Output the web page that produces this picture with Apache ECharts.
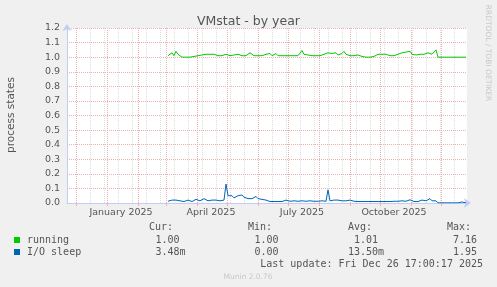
<!DOCTYPE html>
<html><head><meta charset="utf-8">
<script src="https://cdn.jsdelivr.net/npm/echarts@6/dist/echarts.min.js"></script>
<style>html,body{margin:0;padding:0;background:#f0f0f0}#c{width:497px;height:287px}</style>
</head><body><div id="c"></div>
<script>
const titleText = 'VMstat - by year';
const yAxisName = 'process states';
const seriesNames = ['running', 'I/O sleep'];
const seriesColors = ['#00cc00', '#0066b3'];
const axisStart = '2024-11-22';
const axisEnd = '2025-12-27';
const firstDay = '2025-03-03';
const stepDays = 2;
const running = [
 1.01,1.02,1.03,1.01,1.04,1.02,1.01,1.00,
 1.00,1.00,1.00,1.00,1.00,1.005,1.00,1.01,
 1.02,1.015,1.01,1.02,1.01,1.02,1.01,1.02,1.015,1.01,1.02,1.01,1.01,1.02,1.01,1.01,1.02,
 1.015,1.01,1.02,1.02,1.01,1.015,1.01,1.02,1.03,1.02,1.01,1.02,1.01,1.005,1.01,1.005,1.02,1.015,1.025,1.01,1.02,1.025,1.01,1.015,1.01,1.02,1.01,1.015,1.01,1.02,1.01,1.015,1.01,1.02,
 1.045,1.02,1.01,1.015,1.01,1.01,1.02,1.01,1.015,1.01,1.01,1.02,1.01,
 1.03,1.02,1.025,1.02,1.03,1.015,1.02,1.025,1.04,1.02,1.025,
 1.01,1.015,1.01,1.01,1.015,1.01,1.005,1.0,1.0,1.005,1.0,1.0,1.005,1.01,
 1.02,1.015,1.02,1.01,1.02,1.015,1.01,1.02,1.01,1.015,1.02,1.01,
 1.03,1.02,1.035,1.03,1.04,1.02,1.01,1.015,1.01,1.02,1.01,1.02,1.015,1.03,1.035,1.02,1.03,1.05,
 1.0,1.0,1.0,1.0,1.0,1.0,1.0,1.004,1.0,1.0,1.0,1.004,1.0,1.0,1.0
];
const ioSleep = [
 0.012,0.01,0.02,0.03,0.02,0.025,0.015,0.02,0.01,0.015,0.02,0.015,0.01,0.02,0.025,0.02,0.015,0.02,0.03,0.02,0.015,0.025,0.02,0.015,0.02,0.03,0.015,0.01,0.02,
 0.13,0.05,0.04,0.05,0.035,0.045,0.05,0.04,0.055,0.04,0.045,0.03,0.04,0.03,0.035,0.045,0.03,0.02,0.025,0.015,0.02,0.015,
 0.01,0.015,0.01,0.012,0.01,0.015,0.01,0.012,0.02,0.01,0.012,0.01,0.015,0.01,0.012,0.01,0.015,0.01,0.012,0.01,0.015,0.01,0.012,0.01,0.012,0.01,0.015,0.01,0.012,
 0.09,0.015,0.01,0.02,0.012,0.02,0.03,0.015,0.02,0.015,0.025,0.02,0.01,
 0.012,0.02,0.01,0.012,0.01,0.012,0.01,0.012,0.01,0.012,0.01,0.018,0.01,0.012,0.01,0.012,0.01,0.012,0.01,0.01,0.012,0.01,0.012,0.01,0.015,0.01,0.012,0.015,0.022,0.012,0.01,0.012,0.01,0.012,0.02,0.01,0.015,0.012,0.03,0.015,0.025,
 0.015,
 0.001,0.001,0.001,0.001,0.001,0.001,0.001,0.006,0.001,0.001,0.001,0.001,0.007,0.001,0.001
];
const monthLabels = [['2025-01-15','January 2025'],['2025-04-15','April 2025'],['2025-07-15','July 2025'],['2025-10-15','October 2025']];
const monthStarts = ['2024-12-01','2025-01-01','2025-02-01','2025-03-01','2025-04-01','2025-05-01','2025-06-01','2025-07-01','2025-08-01','2025-09-01','2025-10-01','2025-11-01','2025-12-01'];
const minorStart = '2024-12-01';
const minorStepDays = 14;
const statHeaders = ['Cur:', 'Min:', 'Avg:', 'Max:'];
const runningStats = ['1.00', '1.00', '1.01', '7.16'];
const ioSleepStats = ['3.48m', '0.00', '13.50m', '1.95'];
const lastUpdate = 'Last update: Fri Dec 26 17:00:17 2025';
const creditText = 'RRDTOOL / TOBI OETIKER';
const muninText = 'Munin 2.0.76';

const DAY = 86400000;
const t0 = Date.parse(firstDay);
const toPairs = arr => arr.map((v, i) => [t0 + i * stepDays * DAY, v]);
const xMin = Date.parse(axisStart), xMax = Date.parse(axisEnd);
const minorTimes = [];
for (let t = Date.parse(minorStart); t <= xMax; t += minorStepDays * DAY) minorTimes.push(t);
const majorTimes = monthStarts.map(d => Date.parse(d));
const labelMap = {};
monthLabels.forEach(([d, s]) => { labelMap[Date.parse(d)] = s; });

const GRID_RED = '#eeb0b0';
const GRID_GREY = '#dedede';
const AXIS_COL = '#c3ccf2';
const TXT = '#555';

const chart = echarts.init(document.getElementById('c'), null, {renderer: 'canvas'});
const legendY = [240, 252];
const statRight = [185.5, 284.5, 384, 483];
const headerX = [149, 248, 348, 447];
const MONO = '10px "DejaVu Sans Mono"';
const graphics = [];
statHeaders.forEach((h, k) => graphics.push({type: 'text', x: headerX[k], y: 227, style: {text: h, font: MONO, fill: TXT, verticalAlign: 'middle'}}));
[runningStats, ioSleepStats].forEach((row, r) => {
  graphics.push({type: 'rect', shape: {x: 14, y: legendY[r] - 3, width: 6, height: 6}, style: {fill: seriesColors[r]}});
  graphics.push({type: 'text', x: 27, y: legendY[r], style: {text: seriesNames[r], font: MONO, fill: TXT, verticalAlign: 'middle'}});
  row.forEach((v, k) => graphics.push({type: 'text', x: statRight[k], y: legendY[r], style: {text: /m$/.test(v) ? v : v + ' ', font: MONO, fill: TXT, align: 'right', verticalAlign: 'middle'}}));
});
graphics.push({type: 'text', x: 483, y: 264, style: {text: lastUpdate, font: MONO, fill: TXT, align: 'right', verticalAlign: 'middle'}});
graphics.push({type: 'text', x: 248, y: 277, style: {text: muninText, font: '7.5px "DejaVu Sans"', fill: '#c8c8c8', align: 'center', verticalAlign: 'middle'}});
graphics.push({type: 'text', x: 488, y: 53, rotation: -Math.PI / 2, style: {text: creditText, font: '7.5px "DejaVu Sans"', fill: '#c8c8c8', align: 'center', verticalAlign: 'middle'}});
graphics.push({type: 'text', x: 11.5, y: 115, rotation: Math.PI / 2, style: {text: yAxisName, font: '10.5px "DejaVu Sans"', fill: TXT, align: 'center', verticalAlign: 'middle'}});

chart.setOption({
  animation: false,
  backgroundColor: '#f0f0f0',
  title: {text: titleText, left: 'center', top: 10, textStyle: {fontFamily: 'DejaVu Sans', fontSize: 12.5, fontWeight: 'normal', color: TXT}},
  grid: {left: 67, right: 30, top: 28, bottom: 84, show: true, backgroundColor: '#fff', borderWidth: 0},
  xAxis: [
    {
      type: 'value', min: xMin, max: xMax, position: 'bottom',
      axisLine: {show: false}, axisLabel: {show: false},
      axisTick: {show: false, customValues: minorTimes},
      splitLine: {show: true, lineStyle: {color: GRID_GREY, type: [1, 1], width: 1}}
    },
    {
      type: 'value', min: xMin, max: xMax, position: 'bottom',
      splitLine: {show: true, lineStyle: {color: GRID_RED, type: [1, 1], width: 1}},
      axisLine: {show: true, onZero: false, lineStyle: {color: AXIS_COL, width: 1}, symbol: ['none', 'arrow'], symbolSize: [7, 7], symbolOffset: [0, 4]},
      axisTick: {show: true, customValues: majorTimes, length: 3, lineStyle: {color: GRID_RED}},
      axisLabel: {show: true, customValues: monthLabels.map(m => Date.parse(m[0])), formatter: v => labelMap[v] || '', fontFamily: 'DejaVu Sans', fontSize: 9.5, color: TXT, margin: 5, hideOverlap: false}
    }
  ],
  yAxis: {
    type: 'value', min: 0, max: 1.2, interval: 0.1,
    axisLine: {show: true, lineStyle: {color: AXIS_COL, width: 1}, symbol: ['none', 'arrow'], symbolSize: [7, 7], symbolOffset: [0, 4]},
    axisTick: {show: false},
    axisLabel: {formatter: v => v.toFixed(1), fontFamily: 'DejaVu Sans', fontSize: 9.5, color: TXT, margin: 7},
    splitLine: {show: true, lineStyle: {color: GRID_RED, type: [1, 1], width: 1}}
  },
  series: [
    {name: seriesNames[0], type: 'line', xAxisIndex: 1, data: toPairs(running), showSymbol: false, lineStyle: {color: seriesColors[0], width: 1}, itemStyle: {color: seriesColors[0]}, z: 5},
    {name: seriesNames[1], type: 'line', xAxisIndex: 1, data: toPairs(ioSleep), showSymbol: false, lineStyle: {color: seriesColors[1], width: 1}, itemStyle: {color: seriesColors[1]}, z: 5}
  ],
  graphic: graphics
});
</script></body></html>
